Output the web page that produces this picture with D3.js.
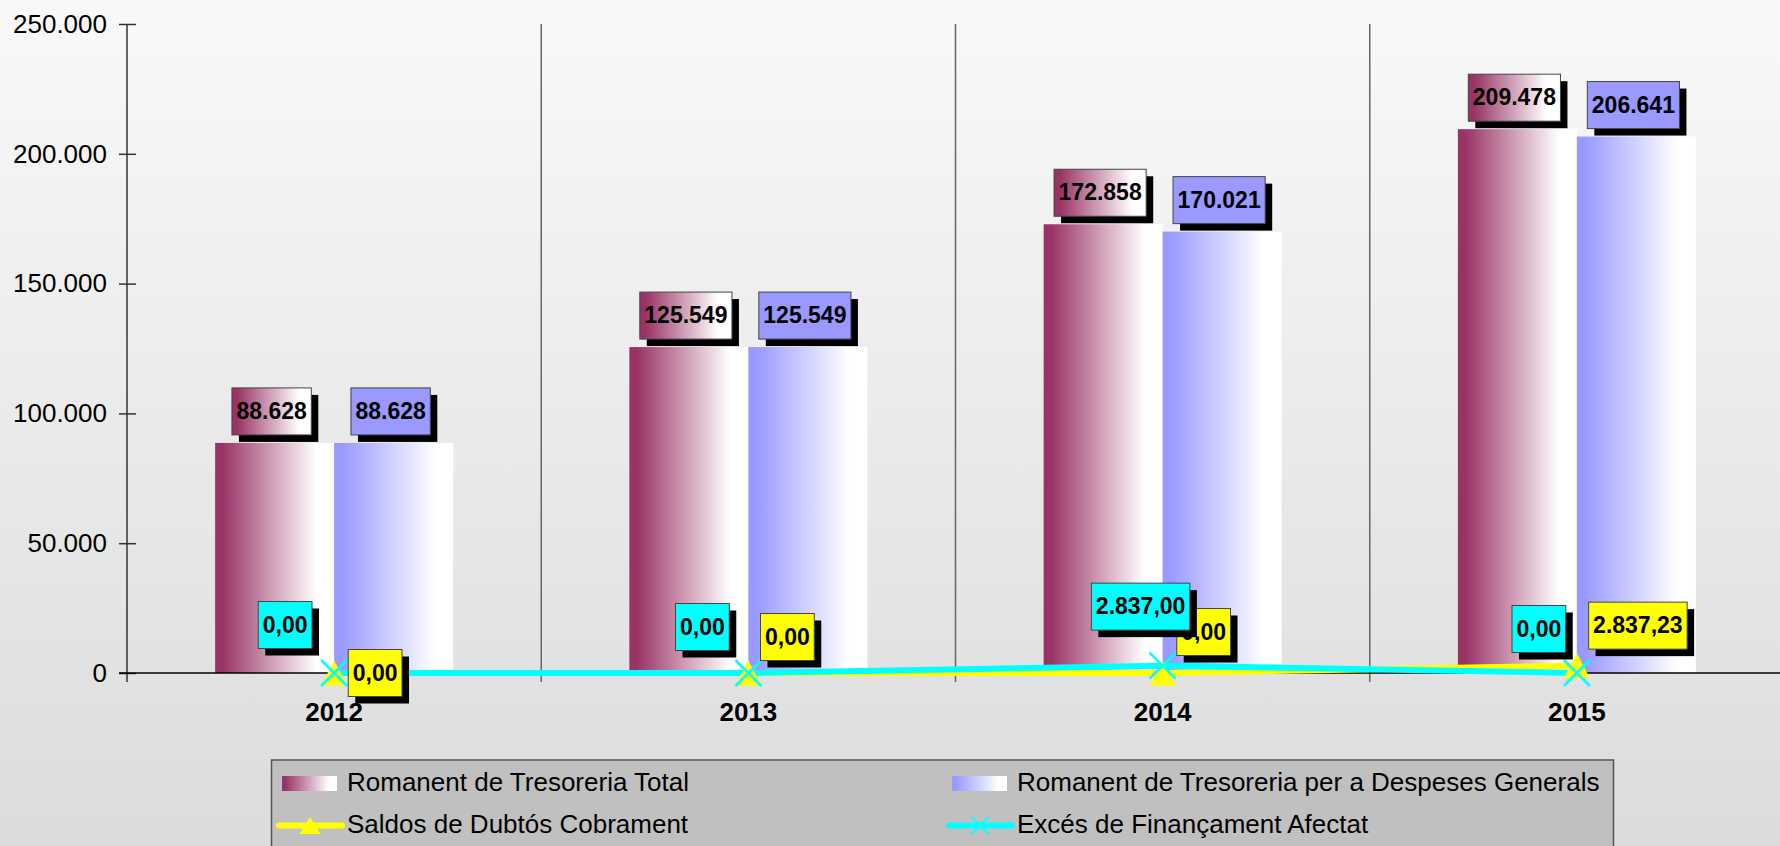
<!DOCTYPE html>
<html>
<head>
<meta charset="utf-8">
<script src="https://cdn.jsdelivr.net/npm/d3@7"></script>
<style>
body { margin: 0; }
svg { display: block; font-family: Arial, "Liberation Sans", sans-serif; }
</style>
</head>
<body>
<svg id="chart" width="1780" height="846"></svg>
<script>
// data
var years = ["2012", "2013", "2014", "2015"];
var romanentTotal = [88628, 125549, 172858, 209478];
var romanentGenerals = [88628, 125549, 170021, 206641];
var saldosDubtos = [0, 0, 0, 2837.23];
var excesFinancament = [0, 0, 2837.00, 0];
var yTicks = [0, 50000, 100000, 150000, 200000, 250000];
var seriesNames = ["Romanent de Tresoreria Total", "Romanent de Tresoreria per a Despeses Generals",
                   "Saldos de Dubtós Cobrament", "Excés de Finançament Afectat"];

// where the line labels sit (box centre relative to the point)
var saldosShift = [[41, 0], [39, -36], [41, -41], [61, -40]];
var excesShift = [[-49, -48], [-46, -46], [-22, -59], [-38, -44]];

var W = 1780, H = 846;
var svg = d3.select("#chart");

var locale = d3.formatLocale({decimal: ",", thousands: ".", grouping: [3], currency: ["", ""]});
var fmtInt = locale.format(",.0f");
var fmtDec = locale.format(",.2f");

var defs = svg.append("defs");
var bg = defs.append("linearGradient").attr("id", "bg").attr("x1", 0).attr("x2", 0).attr("y1", 0).attr("y2", 1);
bg.append("stop").attr("offset", 0).attr("stop-color", "#f9f9f9");
bg.append("stop").attr("offset", 1).attr("stop-color", "#dcdcdc");

function barGradient(id, col) {
    var g = defs.append("linearGradient").attr("id", id).attr("x1", 0).attr("x2", 1).attr("y1", 0).attr("y2", 0);
    g.append("stop").attr("offset", 0).attr("stop-color", col);
    g.append("stop").attr("offset", 0.06).attr("stop-color", col);
    g.append("stop").attr("offset", 0.85).attr("stop-color", "#ffffff");
    g.append("stop").attr("offset", 1).attr("stop-color", "#ffffff");
}
barGradient("gTotal", "#993366");
barGradient("gGen", "#9999ff");

svg.append("rect").attr("width", W).attr("height", H).attr("fill", "url(#bg)");

var x = d3.scaleBand().domain(years).range([127, 1784]).padding(0);
var xs = d3.scaleBand().domain([0, 1]).range([-119, 119]).padding(0);
var y = d3.scaleLinear().domain([0, 250000]).range([673, 24]);

// category separators
svg.append("g").selectAll("line")
    .data(years.slice(1))
    .enter().append("line")
    .attr("x1", function(d) { return x(d); })
    .attr("x2", function(d) { return x(d); })
    .attr("y1", y(250000)).attr("y2", y(0) + 9)
    .attr("stroke", "#666").attr("stroke-width", 1.5);

// y axis
var yAxis = svg.append("g")
    .attr("transform", "translate(127,0)")
    .call(d3.axisLeft(y).tickValues(yTicks).tickFormat(fmtInt).tickSizeInner(8).tickSizeOuter(0).tickPadding(12));
yAxis.select(".domain").remove();
yAxis.selectAll(".tick line").attr("x1", 9).attr("stroke", "#333").attr("stroke-width", 1.5);
yAxis.selectAll(".tick text").attr("font-size", 26).attr("fill", "#000").attr("font-family", null);
svg.append("line").attr("x1", 127).attr("x2", 127).attr("y1", y(250000)).attr("y2", y(0) + 9)
    .attr("stroke", "#333").attr("stroke-width", 1.5);

// bars
var barData = [romanentTotal, romanentGenerals];
var barFill = ["url(#gTotal)", "url(#gGen)"];
var bars = svg.append("g");
barData.forEach(function(vals, s) {
    bars.selectAll(".b" + s)
        .data(vals)
        .enter().append("rect")
        .attr("class", "b" + s)
        .attr("x", function(d, i) { return x(years[i]) + x.bandwidth() / 2 + xs(s); })
        .attr("width", xs.bandwidth())
        .attr("y", function(d) { return y(d); })
        .attr("height", function(d) { return y(0) - y(d); })
        .attr("fill", barFill[s]);
});

// x axis
var xAxis = svg.append("g")
    .attr("transform", "translate(0," + y(0) + ")")
    .call(d3.axisBottom(x).tickSize(0).tickPadding(29.5));
xAxis.select(".domain").remove();
xAxis.selectAll(".tick text").attr("font-size", 26).attr("font-weight", "bold").attr("fill", "#000").attr("font-family", null);
svg.append("line").attr("x1", 119).attr("x2", W).attr("y1", y(0)).attr("y2", y(0))
    .attr("stroke", "#000").attr("stroke-width", 1.5);

// lines
function cx(i) { return x(years[i]) + x.bandwidth() / 2; }
var line = d3.line().x(function(d, i) { return cx(i); }).y(function(d) { return y(d); });
svg.append("path").attr("d", line(saldosDubtos)).attr("fill", "none").attr("stroke", "#ffff00").attr("stroke-width", 6);
svg.append("path").attr("d", line(excesFinancament)).attr("fill", "none").attr("stroke", "#00ffff").attr("stroke-width", 6);

var triPath = "M0,-12.5L13,12.5L-13,12.5Z";
var crossPath = "M-13,-13L13,13M13,-13L-13,13";
svg.append("g").selectAll("path")
    .data(saldosDubtos).enter().append("path")
    .attr("d", triPath)
    .attr("transform", function(d, i) { return "translate(" + cx(i) + "," + y(d) + ")"; })
    .attr("fill", "#ffff00");
svg.append("g").selectAll("path")
    .data(excesFinancament).enter().append("path")
    .attr("d", crossPath)
    .attr("transform", function(d, i) { return "translate(" + cx(i) + "," + y(d) + ")"; })
    .attr("fill", "none").attr("stroke", "#00ffff").attr("stroke-width", 2.5);

// data labels
var labels = svg.append("g");
function labelBox(px, py, txt, fill) {
    var g = labels.append("g");
    var t = g.append("text")
        .attr("x", px).attr("y", py + 7.5)
        .attr("text-anchor", "middle")
        .attr("font-size", 23).attr("font-weight", "bold")
        .text(txt);
    var w = t.node().getComputedTextLength() + 9, h = 47;
    g.insert("rect", "text")
        .attr("x", px - w / 2 + 7).attr("y", py - h / 2 + 7)
        .attr("width", w).attr("height", h).attr("fill", "#000");
    g.insert("rect", "text")
        .attr("x", px - w / 2).attr("y", py - h / 2)
        .attr("width", w).attr("height", h)
        .attr("fill", fill).attr("stroke", "#444").attr("stroke-width", 1);
}
var labelFill = ["url(#gTotal)", "#9999ff"];
barData.forEach(function(vals, s) {
    vals.forEach(function(v, i) {
        var bx = x(years[i]) + x.bandwidth() / 2 + xs(s) + xs.bandwidth() / 2;
        labelBox(bx - 3, y(v) - 8 - 23.5, fmtInt(v), labelFill[s]);
    });
});
saldosDubtos.forEach(function(v, i) {
    labelBox(cx(i) + saldosShift[i][0], y(v) + saldosShift[i][1], fmtDec(v), "#ffff00");
});
excesFinancament.forEach(function(v, i) {
    labelBox(cx(i) + excesShift[i][0], y(v) + excesShift[i][1], fmtDec(v), "#00ffff");
});

// legend
var leg = svg.append("g");
leg.append("rect").attr("x", 271.5).attr("y", 760).attr("width", 1342).attr("height", 120)
    .attr("fill", "#c0c0c0").attr("stroke", "#555").attr("stroke-width", 1.5);
var legCols = [282, 952];
var legRows = [783.5, 825.5];
[0, 1].forEach(function(c) {
    leg.append("rect").attr("x", legCols[c]).attr("y", legRows[0] - 7.5).attr("width", 55).attr("height", 15)
        .attr("fill", barFill[c]);
    leg.append("text").attr("x", legCols[c] + 65).attr("y", 791).attr("font-size", 26).text(seriesNames[c]);
});
leg.append("line").attr("x1", legCols[0] - 3).attr("x2", legCols[0] + 60).attr("y1", legRows[1]).attr("y2", legRows[1])
    .attr("stroke", "#ffff00").attr("stroke-width", 6).attr("stroke-linecap", "round");
leg.append("path").attr("d", "M0,-8.5L10.5,8.5L-10.5,8.5Z")
    .attr("transform", "translate(" + (legCols[0] + 28) + "," + legRows[1] + ")").attr("fill", "#ffff00");
leg.append("text").attr("x", legCols[0] + 65).attr("y", 833).attr("font-size", 26).text(seriesNames[2]);
leg.append("line").attr("x1", legCols[1] - 3).attr("x2", legCols[1] + 60).attr("y1", legRows[1]).attr("y2", legRows[1])
    .attr("stroke", "#00ffff").attr("stroke-width", 6).attr("stroke-linecap", "round");
leg.append("path").attr("d", "M-8.5,-8.5L8.5,8.5M8.5,-8.5L-8.5,8.5")
    .attr("transform", "translate(" + (legCols[1] + 28) + "," + legRows[1] + ")")
    .attr("stroke", "#00ffff").attr("stroke-width", 2);
leg.append("text").attr("x", legCols[1] + 65).attr("y", 833).attr("font-size", 26).text(seriesNames[3]);
</script>
</body>
</html>
